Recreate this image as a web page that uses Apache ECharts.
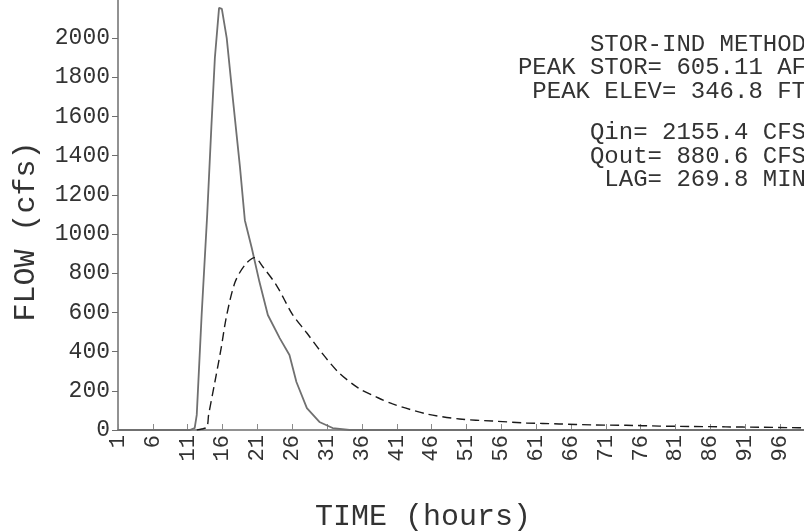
<!DOCTYPE html>
<html>
<head>
<meta charset="utf-8">
<script src="https://cdn.jsdelivr.net/npm/echarts@6/dist/echarts.min.js"></script>
<style>
  html, body { margin: 0; padding: 0; background: #fff; }
  #main { width: 804px; height: 531px; }
</style>
</head>
<body>
<div id="main"></div>
<script>
// inflow hydrograph (solid)
var inflowHours = [1, 11.3, 12.0, 12.3, 13.0, 13.8, 14.4, 14.9, 15.5, 15.9, 16.6, 17.5, 18.5, 19.2, 20.2, 21.3, 22.5, 24.2, 25.6, 26.6, 28.1, 29.9, 31.8, 34.2, 100];
var inflowCfs   = [0, 0, 10, 77, 587, 1100, 1550, 1900, 2155, 2150, 2000, 1684, 1342, 1071, 928, 755, 587, 469, 383, 245, 112, 41, 10, 0, 0];

// outflow hydrograph (dashed)
var outflowHours = [12.3, 13.0, 13.75, 14.0, 14.9, 15.8, 16.6, 17.8, 19.2, 20.6, 21.8, 23.8, 26.0, 28.1, 30.0, 32.6, 35.5, 38.1, 40.4, 45.3, 50.0, 54.7, 59.6, 64.3, 69.0, 73.9, 78.7, 83.4, 88.2, 93.0, 97.7, 100];
var outflowCfs   = [0, 5, 15, 77, 245, 418, 587, 755, 842, 880, 832, 735, 592, 495, 405, 296, 214, 168, 133, 82, 56, 46, 36, 31, 26, 24, 20, 18, 16, 14, 12, 11];

var infoLines = ['STOR-IND METHOD', 'PEAK STOR= 605.11 AF', 'PEAK ELEV= 346.8 FT', 'Qin= 2155.4 CFS', 'Qout= 880.6 CFS', 'LAG= 269.8 MIN'];
var infoY = [45, 68, 92, 133, 157, 180];

var FONT = 'Liberation Mono';

function pairs(xs, ys){
  var out = [];
  for(var i=0;i<xs.length;i++){
    out.push([xs[i], ys[i]]);
  }
  return out;
}

var chart = echarts.init(document.getElementById('main'));

var graphics = [];
for(var i=0;i<infoLines.length;i++){
  graphics.push({
    type: 'text',
    x: 806,
    y: infoY[i],
    style: {
      text: infoLines[i],
      fontFamily: FONT,
      fontSize: 24,
      fill: '#333',
      textAlign: 'right',
      textVerticalAlign: 'middle'
    }
  });
}

var option = {
  animation: false,
  backgroundColor: '#fff',
  grid: {
    left: 118,
    right: -4,
    top: -1,
    bottom: 101,
    outerBoundsMode: 'none'
  },
  xAxis: {
    type: 'value',
    min: 1,
    max: 100,
    interval: 5,
    name: 'TIME (hours)',
    nameLocation: 'middle',
    nameGap: 72,
    nameTextStyle: {
      fontFamily: FONT,
      fontSize: 30,
      color: '#333',
      padding: [0, 80, 0, 0]
    },
    axisLine: { lineStyle: { color: '#6e6e6e', width: 1.5 } },
    axisTick: { inside: true, length: 6, lineStyle: { color: '#8a8a8a' } },
    axisLabel: {
      rotate: 90,
      margin: 5,
      fontFamily: FONT,
      fontSize: 22,
      color: '#333',
      showMaxLabel: false
    },
    splitLine: { show: false }
  },
  yAxis: {
    type: 'value',
    min: 0,
    max: 2200,
    interval: 200,
    name: 'FLOW (cfs)',
    nameLocation: 'middle',
    nameGap: 77,
    nameTextStyle: {
      fontFamily: FONT,
      fontSize: 30,
      color: '#333',
      padding: [0, 34, 0, 0]
    },
    axisLine: { show: true, lineStyle: { color: '#6e6e6e', width: 1.5 } },
    axisTick: { show: true, length: 6, lineStyle: { color: '#6e6e6e' } },
    axisLabel: {
      margin: 8,
      fontFamily: FONT,
      fontSize: 23,
      color: '#333',
      showMaxLabel: false,
      formatter: function (v) { return String(v); }
    },
    splitLine: { show: false }
  },
  graphic: graphics,
  series: [
    {
      name: 'Qin',
      type: 'line',
      data: pairs(inflowHours, inflowCfs),
      showSymbol: false,
      lineStyle: { color: '#707070', width: 1.8 }
    },
    {
      name: 'Qout',
      type: 'line',
      data: pairs(outflowHours, outflowCfs),
      showSymbol: false,
      smooth: 0.3,
      lineStyle: { color: '#1a1a1a', width: 1.4, type: [9, 5] }
    }
  ]
};
chart.setOption(option);
</script>
</body>
</html>
